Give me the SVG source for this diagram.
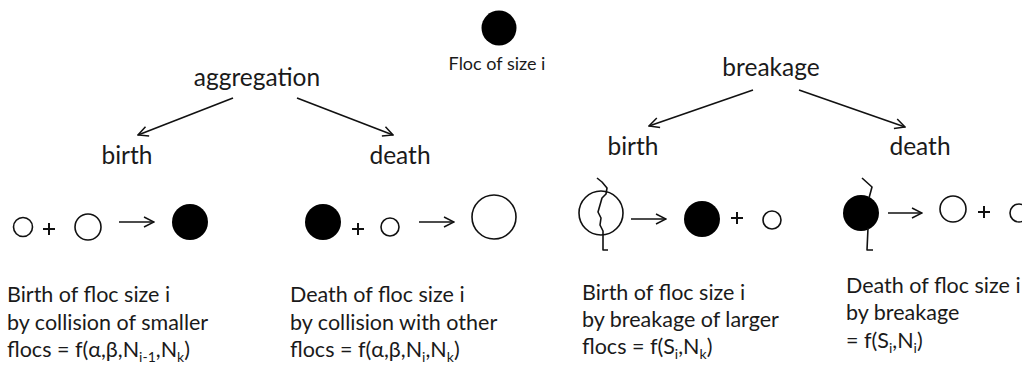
<svg xmlns="http://www.w3.org/2000/svg" width="1022" height="365" viewBox="0 0 1022 365">
<defs>
<marker id="v" viewBox="0 0 12 12" refX="11" refY="6" markerWidth="12" markerHeight="12" markerUnits="userSpaceOnUse" orient="auto">
<path d="M1,1 L11,6 L1,11" fill="none" stroke="#111" stroke-width="1.5" stroke-linejoin="miter"/>
</marker>
<style>
text{font-family:Lato,"Liberation Sans",sans-serif;fill:#1a1a1a}
.h{font-size:24.5px}
.s{font-size:18px}
.b{font-size:21.5px}
.sub{font-size:14px}
.o{fill:none;stroke:#111;stroke-width:1.6}
.f{fill:#000}
.c{fill:none;stroke:#111;stroke-width:1.6}
.p{stroke:#111;stroke-width:2;fill:none}
.crack{fill:none;stroke:#111;stroke-width:1.6;stroke-linejoin:round}
</style>
</defs>
<rect width="1022" height="365" fill="#fff"/>

<g id="legend">
<circle class="f" cx="499" cy="28" r="17.5"/>
<text class="s" x="497" y="70" text-anchor="middle">Floc of size i</text>
</g>

<g id="aggregation"><text class="h" x="257" y="86" text-anchor="middle">aggregation</text></g>
<g id="agg-birth"><text class="h" x="127" y="164" text-anchor="middle">birth</text></g>
<g id="agg-death"><text class="h" x="400" y="164" text-anchor="middle">death</text></g>
<g id="breakage"><text class="h" x="771" y="76" text-anchor="middle">breakage</text></g>
<g id="brk-birth"><text class="h" x="633" y="155" text-anchor="middle">birth</text></g>
<g id="brk-death"><text class="h" x="920" y="155" text-anchor="middle">death</text></g>

<g id="connectors">
<line class="c" x1="233" y1="98" x2="138" y2="135" marker-end="url(#v)"/>
<line class="c" x1="297" y1="98" x2="393" y2="135" marker-end="url(#v)"/>
<line class="c" x1="753" y1="90" x2="649" y2="126" marker-end="url(#v)"/>
<line class="c" x1="799" y1="90" x2="905" y2="127" marker-end="url(#v)"/>
</g>

<g id="agg-birth-scheme">
<circle class="o" cx="23" cy="227" r="9.5"/>
<path class="p" d="M43,229 H55 M49,223 V235"/>
<circle class="o" cx="88" cy="227" r="13"/>
<line class="c" x1="119" y1="222" x2="154" y2="222" marker-end="url(#v)"/>
<circle class="f" cx="190" cy="222" r="18"/>
</g>

<g id="agg-death-scheme">
<circle class="f" cx="323" cy="222" r="18"/>
<path class="p" d="M352,229 H364 M358,223 V235"/>
<circle class="o" cx="390" cy="227" r="9"/>
<line class="c" x1="419" y1="222" x2="454" y2="222" marker-end="url(#v)"/>
<circle class="o" cx="494" cy="217" r="22"/>
</g>

<g id="brk-birth-scheme">
<circle class="o" cx="601" cy="213" r="22"/>
<path class="crack" d="M597,178 L602,182 L607,188 L606,194 L602,198 L600,205 L598,212 L601,218 L600,225 L603,231 L603,250 L608,250"/>
<line class="c" x1="631" y1="219" x2="666" y2="219" marker-end="url(#v)"/>
<circle class="f" cx="702" cy="219" r="18"/>
<path class="p" d="M731,218 H743 M737,212 V224"/>
<circle class="o" cx="772" cy="220" r="9"/>
</g>

<g id="brk-death-scheme">
<circle class="f" cx="861" cy="213" r="18"/>
<path class="crack" d="M862,178 L872,187 L869,198"/>
<path class="crack" d="M868,228 L867,250 L873,250"/>
<line class="c" x1="888" y1="213" x2="922" y2="213" marker-end="url(#v)"/>
<circle class="o" cx="953" cy="209" r="13"/>
<path class="p" d="M978,212 H990 M984,206 V218"/>
<circle class="o" cx="1019" cy="213" r="9"/>
</g>

<g id="desc-agg-birth">
<text class="b" x="7" y="302">Birth of floc size i</text>
<text class="b" x="7" y="330">by collision of smaller</text>
<text class="b" x="7" y="357">flocs = f(α,β,N<tspan class="sub" dy="5">i-1</tspan><tspan dy="-5">,N</tspan><tspan class="sub" dy="5">k</tspan><tspan dy="-5">)</tspan></text>
</g>
<g id="desc-agg-death">
<text class="b" x="290" y="302">Death of floc size i</text>
<text class="b" x="290" y="330">by collision with other</text>
<text class="b" x="290" y="357">flocs = f(α,β,N<tspan class="sub" dy="5">i</tspan><tspan dy="-5">,N</tspan><tspan class="sub" dy="5">k</tspan><tspan dy="-5">)</tspan></text>
</g>
<g id="desc-brk-birth">
<text class="b" x="582" y="300">Birth of floc size i</text>
<text class="b" x="582" y="327">by breakage of larger</text>
<text class="b" x="582" y="354">flocs = f(S<tspan class="sub" dy="5">i</tspan><tspan dy="-5">,N</tspan><tspan class="sub" dy="5">k</tspan><tspan dy="-5">)</tspan></text>
</g>
<g id="desc-brk-death">
<text class="b" x="846" y="293">Death of floc size i</text>
<text class="b" x="846" y="320">by breakage</text>
<text class="b" x="846" y="348">= f(S<tspan class="sub" dy="5">i</tspan><tspan dy="-5">,N</tspan><tspan class="sub" dy="5">i</tspan><tspan dy="-5">)</tspan></text>
</g>
</svg>
